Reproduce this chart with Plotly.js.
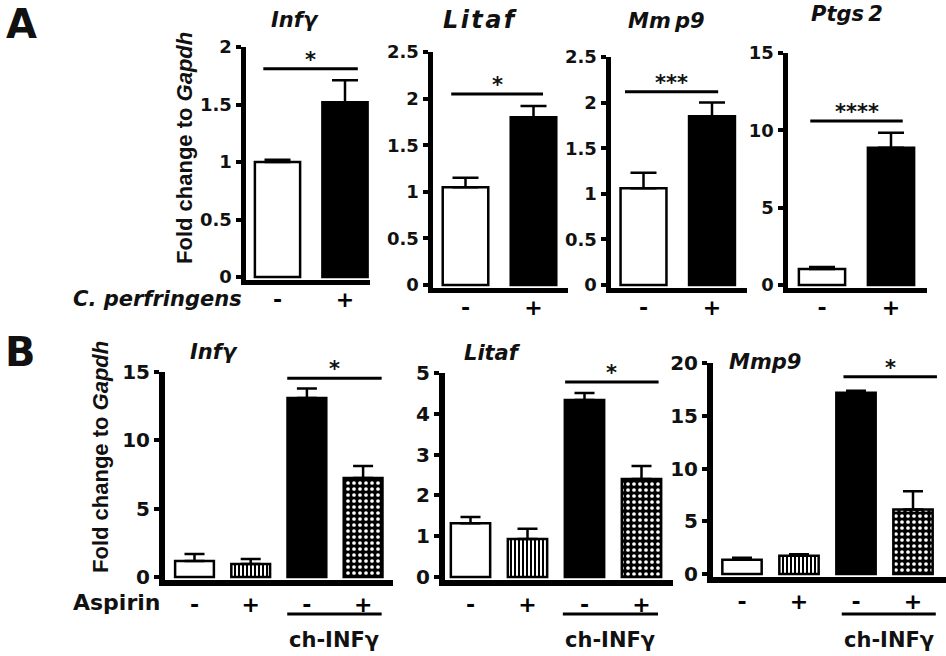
<!DOCTYPE html>
<html><head><meta charset="utf-8">
<script src="https://cdn.plot.ly/plotly-3.0.1.min.js"></script>
<style>html,body{margin:0;padding:0;background:#fff}#chart{width:946px;height:656px}</style>
</head><body><div id="chart"></div>
<script>
// ---------------- data ----------------
const groupsA = ['-', '+'];
const groupsB = ['-', '+', '-', '+'];
const genesA = ['Infγ', 'Litaf', 'Mmp9', 'Ptgs2'];
const genesB = ['Infγ', 'Litaf', 'Mmp9'];

const A_infg  = [1.00, 1.52]; const A_infg_err  = [0.02, 0.19];
const A_litaf = [1.05, 1.80]; const A_litaf_err = [0.10, 0.12];
const A_mmp9  = [1.06, 1.85]; const A_mmp9_err  = [0.17, 0.15];
const A_ptgs2 = [1.03, 8.87]; const A_ptgs2_err = [0.13, 0.97];
const A_sig  = ['*', '*', '***', '****'];
const A_sigY = [1.81, 2.05, 2.12, 10.6];

const B_infg  = [1.17, 0.95, 13.1, 7.24];  const B_infg_err  = [0.51, 0.37, 0.70, 0.88];
const B_litaf = [1.32, 0.93, 4.34, 2.40];  const B_litaf_err = [0.15, 0.25, 0.17, 0.32];
const B_mmp9  = [1.36, 1.74, 17.17, 6.12]; const B_mmp9_err  = [0.19, 0.14, 0.19, 1.72];
const B_sig  = ['*', '*', '*'];
const B_sigY = [14.55, 4.78, 18.7];

const yTitle = 'Fold change to <i>Gapdh</i>';
const aLabel = 'C. perfringens';
const bLabel = 'Aspirin';
const treatLabel = 'ch-INFγ';

// ---------------- layout geometry (pixels) ----------------
const W = 946, H = 656;
const geoA = [
  {lineX:243, xEnd:370, zeroY:277, topY:47, top:2,   dtick:0.5, c0:277.5, sp:67.5, L:5, span:[-0.21,1.19], title:[295,20], tsize:21},
  {lineX:430, xEnd:568, zeroY:285, topY:52, top:2.5, dtick:0.5, c0:465.5, sp:68,   L:5, span:[-0.21,1.14], title:[480,20], tsize:24},
  {lineX:608, xEnd:747, zeroY:285, topY:57, top:2.5, dtick:0.5, c0:643.5, sp:68.5, L:5, span:[-0.27,1.09], title:[666,21], tsize:21},
  {lineX:785, xEnd:927, zeroY:285, topY:53, top:15,  dtick:5,   c0:822,   sp:69,   L:5, span:[-0.17,1.17], title:[847,14], tsize:21}
];
const geoB = [
  {lineX:162, xEnd:393, zeroY:577, topY:372, top:15, dtick:5, c0:194.5, sp:56.2, L:6, span:[1.65,3.33], tspan:[1.65,3.33], title:[188,352]},
  {lineX:442, xEnd:673, zeroY:577, topY:373, top:5,  dtick:1, c0:470.5, sp:57,   L:6, span:[1.66,3.30], tspan:[1.62,3.29], title:[462,353]},
  {lineX:710, xEnd:946, zeroY:574, topY:363, top:20, dtick:5, c0:742,   sp:57,   L:6, span:[1.78,3.42], tspan:[1.75,3.40], title:[727,362]}
];
const hair = '\u200A', thin = '\u2009';
const titleTextA = ['Infγ', ['L','i','t','a','f'].join(hair), 'Mm' + thin + 'p9', 'Ptgs' + thin + '2'];

const FONT = 'DejaVu Sans';
const px2x = p => p / W;
const px2y = p => 1 - p / H;

const traces = [];
const layout = {
  width: W, height: H, margin: {l:0, r:0, t:0, b:0},
  paper_bgcolor: '#fff', plot_bgcolor: 'rgba(0,0,0,0)',
  showlegend: false, bargap: 0, barmode: 'overlay', annotations: [], shapes: []
};

function addAxes(idx, g, groups, tickSize, standoff) {
  const sfx = idx === 1 ? '' : String(idx);
  const xa = 'x' + sfx, ya = 'y' + sfx;
  const ppu = (g.zeroY - g.topY) / g.top;
  const left = g.lineX + g.L / 2;
  layout['xaxis' + sfx] = {
    domain: [px2x(left), px2x(g.xEnd)],
    range: [(left - g.c0) / g.sp, (g.xEnd - g.c0) / g.sp],
    anchor: ya, showline: true, linewidth: g.L, linecolor: '#000',
    ticks: '', tickvals: groups.map((_, i) => i), ticktext: groups.map(s => '<b>' + s + '</b>'),
    tickfont: {family: FONT, size: 22, weight: 'bold', color: '#000'},
    showgrid: false, zeroline: false, fixedrange: true, ticklabelstandoff: standoff
  };
  layout['yaxis' + sfx] = {
    domain: [px2y(g.zeroY + g.L / 2), px2y(g.topY)],
    range: [-(g.L / 2) / ppu, g.top],
    anchor: xa, showline: true, linewidth: g.L, linecolor: '#000',
    ticks: 'outside', ticklen: 5, tickwidth: 4, tickcolor: '#000',
    tick0: 0, dtick: g.dtick, tickprefix: '<b>', ticksuffix: '</b>',
    tickfont: {family: FONT, size: tickSize, weight: 'bold', color: '#111'},
    showgrid: false, zeroline: false, fixedrange: true
  };
  return {xa, ya};
}

function addBar(ax, j, val, err, marker, barW, errW) {
  traces.push({
    type: 'bar', x: [j], y: [val], xaxis: ax.xa, yaxis: ax.ya, width: barW,
    marker: Object.assign({line: {color: '#000', width: 2.5}}, marker),
    error_y: {type: 'data', symmetric: false, array: [err], arrayminus: [0],
              color: '#000', thickness: 2.5, width: errW},
    hoverinfo: 'skip'
  });
}

const starFont = {family: FONT, size: 21, weight: 'bold', color: '#111'};

// Panel A
const valsA = [A_infg, A_litaf, A_mmp9, A_ptgs2];
const errsA = [A_infg_err, A_litaf_err, A_mmp9_err, A_ptgs2_err];
const markersA = [{color: '#fff'}, {color: '#000'}];
geoA.forEach((g, i) => {
  const ax = addAxes(i + 1, g, groupsA, 18, -4);
  valsA[i].forEach((v, j) => addBar(ax, j, v, errsA[i][j], markersA[j], 0.67, 13));
  layout.shapes.push({type: 'line', xref: ax.xa, yref: ax.ya, x0: g.span[0], x1: g.span[1],
    y0: A_sigY[i], y1: A_sigY[i], line: {color: '#000', width: 3}});
  layout.annotations.push({xref: ax.xa, yref: ax.ya, x: (g.span[0] + g.span[1]) / 2, y: A_sigY[i],
    yanchor: 'bottom', yshift: -5, text: A_sig[i], showarrow: false, font: starFont});
  layout.annotations.push({xref: 'paper', yref: 'paper', x: px2x(g.title[0]), y: px2y(g.title[1]),
    xanchor: 'center', yanchor: 'middle', text: titleTextA[i], showarrow: false,
    font: {family: FONT, size: g.tsize, weight: 'bold', style: 'italic', color: '#111'}});
});

// Panel B
const valsB = [B_infg, B_litaf, B_mmp9];
const errsB = [B_infg_err, B_litaf_err, B_mmp9_err];
const markersB = [
  {color: '#fff'},
  {color: '#fff', pattern: {shape: '|', fillmode: 'replace', bgcolor: '#fff', fgcolor: '#000', size: 4, solidity: 0.5}},
  {color: '#000'},
  {color: '#000', pattern: {shape: '.', fillmode: 'replace', bgcolor: '#000', fgcolor: '#fff', size: 6, solidity: 0.3}}
];
geoB.forEach((g, i) => {
  const ax = addAxes(i + 5, g, groupsB, 20, 0);
  valsB[i].forEach((v, j) => addBar(ax, j, v, errsB[i][j], markersB[j], 0.69, 10));
  layout.shapes.push({type: 'line', xref: ax.xa, yref: ax.ya, x0: g.span[0], x1: g.span[1],
    y0: B_sigY[i], y1: B_sigY[i], line: {color: '#000', width: 3}});
  layout.annotations.push({xref: ax.xa, yref: ax.ya, x: (g.span[0] + g.span[1]) / 2, y: B_sigY[i],
    yanchor: 'bottom', yshift: -5, text: B_sig[i], showarrow: false, font: starFont});
  layout.shapes.push({type: 'line', xref: ax.xa, yref: 'paper', x0: g.tspan[0], x1: g.tspan[1],
    y0: px2y(614), y1: px2y(614), line: {color: '#000', width: 3}});
  layout.annotations.push({xref: ax.xa, yref: 'paper', x: (g.tspan[0] + g.tspan[1]) / 2, y: px2y(640),
    xanchor: 'center', yanchor: 'middle', text: treatLabel, showarrow: false,
    font: {family: FONT, size: 21, weight: 'bold', color: '#111'}});
  layout.annotations.push({xref: 'paper', yref: 'paper', x: px2x(g.title[0]), y: px2y(g.title[1]),
    xanchor: 'left', yanchor: 'middle', text: genesB[i], showarrow: false,
    font: {family: FONT, size: 21, weight: 'bold', style: 'italic', color: '#111'}});
});

// Shared text
const addText = (text, x, y, font, extra) => layout.annotations.push(Object.assign({
  xref: 'paper', yref: 'paper', x: px2x(x), y: px2y(y), xanchor: 'center', yanchor: 'middle',
  text, showarrow: false, font: Object.assign({color: '#111'}, font)}, extra || {}));
addText(yTitle, 184, 148, {family: 'Liberation Sans', size: 22, weight: 'bold'}, {textangle: -90});
addText(yTitle, 100, 457, {family: 'Liberation Sans', size: 22, weight: 'bold'}, {textangle: -90});
addText(aLabel, 157, 299, {family: FONT, size: 21, weight: 'bold', style: 'italic'});
addText(bLabel, 116, 602, {family: FONT, size: 22, weight: 'bold'});
addText('A', 21, 24, {family: FONT, size: 40, weight: 'bold'});
addText('B', 20, 352, {family: FONT, size: 40, weight: 'bold'});

Plotly.newPlot('chart', traces, layout, {staticPlot: true, displayModeBar: false});
</script>
</body></html>
